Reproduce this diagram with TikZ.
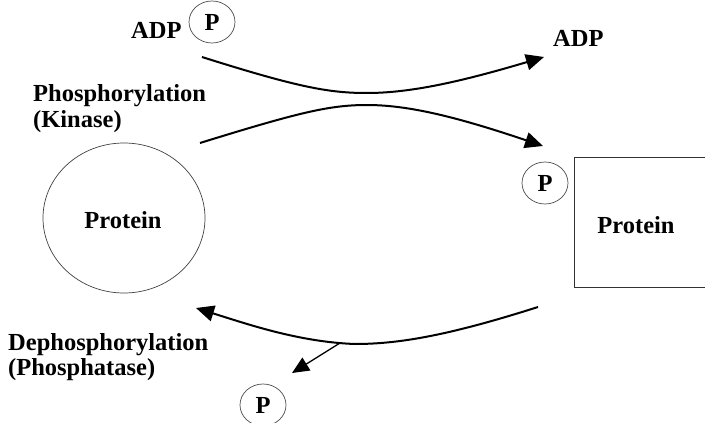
\documentclass[tikz,border=0pt]{standalone}
\usepackage{fontspec}
\setmainfont{Liberation Serif}
\usetikzlibrary{arrows.meta,shapes.geometric}
\begin{document}
\begin{tikzpicture}[x=1pt,y=-1pt,
  lbl/.style={font=\bfseries\fontsize{24.5}{28}\selectfont, inner sep=0pt},
  pcirc/.style={ellipse, draw=black!70, line width=0.7pt, minimum width=46pt, minimum height=42pt, inner sep=0pt, font=\bfseries\fontsize{24.5}{28}\selectfont},
  flow/.style={line width=2pt, -{Triangle[length=18pt,width=16pt]}}]
\useasboundingbox (0,0) rectangle (705,423);
\clip (0,0) rectangle (705,423);
% labels
\node[lbl, anchor=base west] (adpl) at (131,38) {ADP};
\node[pcirc] (p1) at (212,22) {P};
\node[lbl, anchor=base west] (adpr) at (553,46) {ADP};
\node[lbl, anchor=base west] (phos) at (33,101) {Phosphorylation};
\node[lbl, anchor=base west] (kin) at (33,127) {(Kinase)};
\node[lbl, anchor=base west] (dephos) at (8,350) {Dephosphorylation};
\node[lbl, anchor=base west] (phtase) at (8,375) {(Phosphatase)};
% proteins
\node[ellipse, draw=black!75, line width=0.7pt, minimum width=162pt, minimum height=150pt] (prot1) at (124,218) {};
\node[lbl, anchor=base] (prot1t) at (123,228) {Protein};
\node[rectangle, draw=black!80, line width=1pt, anchor=north west, minimum width=150pt, minimum height=130pt] (prot2) at (574,157) {};
\node[lbl, anchor=base] (prot2t) at (636,233) {Protein};
\node[pcirc] (p2) at (545,183) {P};
\node[pcirc] (p3) at (263,405) {P};
% arrow end points
\coordinate (a1s) at (202,57);
\coordinate (a1e) at (544,57);
\coordinate (a2s) at (200,143);
\coordinate (a2e) at (543,146);
\coordinate (a3s) at (538,307);
\coordinate (a3e) at (196,308);
\coordinate (br) at (340,343);
\coordinate (bre) at (292,373);
% arrows
\draw[flow] (a1s) .. controls (300,88) and (330,93) .. (367,93) .. controls (410,93) and (460,82) .. (a1e);
\draw[flow] (a2s) .. controls (300,112) and (330,105) .. (367,105) .. controls (410,105) and (460,118) .. (a2e);
\draw[flow] (a3s) .. controls (450,335) and (400,344) .. (355,344) .. controls (300,342) and (250,325) .. (a3e);
\draw[line width=1.3pt, -{Triangle[length=17pt,width=15pt]}] (br) -- (bre);
\end{tikzpicture}
\end{document}
